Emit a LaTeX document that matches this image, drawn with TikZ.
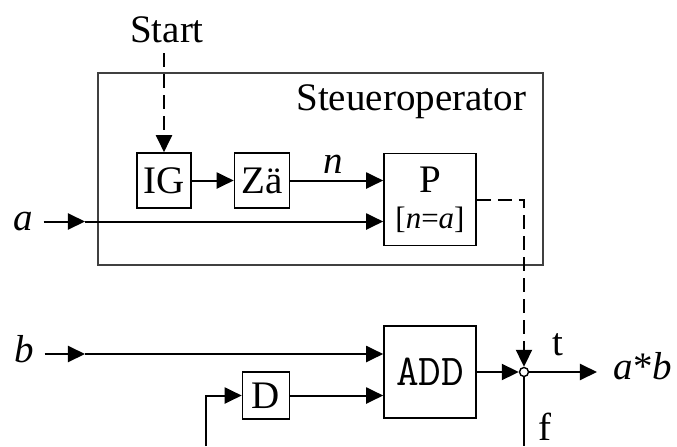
\documentclass[tikz,border=0pt]{standalone}
\usepackage{fontspec}
\setmainfont{Liberation Serif}
\usetikzlibrary{arrows.meta,positioning}

\tikzset{
  blk/.style={draw, line width=0.8pt, inner sep=0pt},
  frame/.style={draw, line width=0.6pt, black!75, inner sep=0pt},
  lbl/.style={inner sep=5pt},
  ctrl/.style={dash pattern=on 7pt off 3.5pt},
  junct/.style={circle, draw, fill=white, line width=0.7pt, inner sep=0pt, minimum size=4.5pt}
}

\begin{document}
\begin{tikzpicture}[x=0.5pt, y=-0.5pt, line width=1pt,
  font=\fontsize{19.5}{23}\selectfont,
  >={Triangle[length=8.5pt,width=8pt]}]
  \useasboundingbox (0,0) rectangle (677,446);

  % Steueroperator
  \node[frame, minimum width=222.5pt, minimum height=96pt] (sop) at (320.5,169) {};
  \node[lbl, anchor=base east] (sopname) at (537,110) {Steueroperator};
  \node[lbl, anchor=base] (start) at (167,42) {Start};
  \node[blk, minimum width=27pt, minimum height=27.5pt] (ig) at (164,180.5) {IG};
  \node[blk, minimum width=27.5pt, minimum height=27.5pt] (zae) at (262,180.5) {Zä};
  \node[blk, minimum width=46pt, minimum height=46pt] (p) at (430,199.5) {};
  \node[anchor=base] (ptitle) at (430,192) {P};
  \node[anchor=base, font=\fontsize{15.5}{18}\selectfont] (pcond) at (430,228) {[\textit{n}=\textit{a}]};
  \node[lbl, anchor=base] (n) at (333,173) {\textit{n}};
  \node[lbl, anchor=base] (a) at (23,230) {\textit{a}};
  \coordinate (ain) at (85,221.5);

  % Rechenwerk
  \node[lbl, anchor=base] (b) at (24,362) {\textit{b}};
  \coordinate (bin) at (85,354);
  \node[blk, minimum width=46pt, minimum height=46pt, font=\fontsize{22}{26}\ttfamily] (add) at (430,372) {ADD};
  \node[blk, minimum width=23.5pt, minimum height=23.5pt] (d) at (266,395.5) {D};
  \node[junct] (sw) at (524,372) {};
  \node[lbl, anchor=base west] (ab) at (603,379) {\textit{a}*\textit{b}};
  \node[anchor=base, inner sep=1pt] (t) at (558,355) {t};
  \node[anchor=base, inner sep=1pt] (f) at (545,440) {f};
  \coordinate (fout) at (524,446);
  \coordinate (fb) at (206,446);

  \draw[->, ctrl] (ig.north |- start.south) -- (ig.north);
  \draw[->] (ig) -- (zae);
  \draw[->] (zae) -- (p.west |- zae);
  \draw[->] (a.east |- ain) -- (ain);
  \draw[->] (ain) -- (p.west |- ain);
  \draw[->, ctrl] (p.east) -| (sw.north);

  \draw[->] (b.east |- bin) -- (bin);
  \draw[->] (bin) -- (add.west |- bin);
  \draw[->] (fb) |- (d.west);
  \draw[->] (d.east) -- (add.west |- d.east);
  \draw[->] (add.east) -- (sw.west);
  \draw[->, shorten >=3pt] (sw.east) -- (ab.west |- sw);
  \draw (sw.south) -- (fout);
\end{tikzpicture}
\end{document}
